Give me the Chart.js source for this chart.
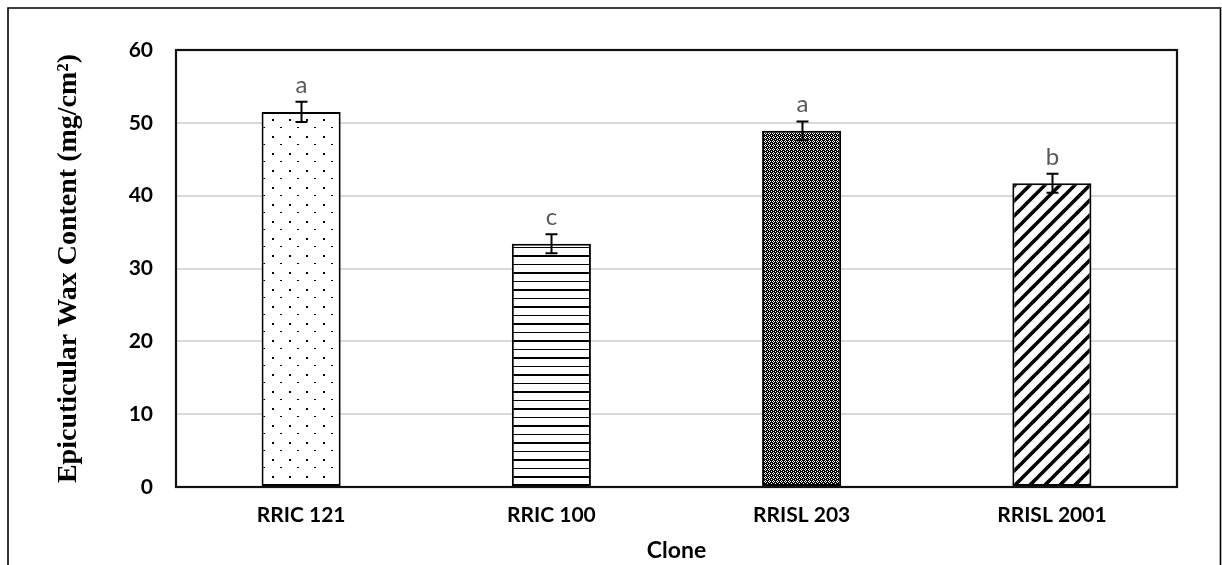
<!DOCTYPE html>
<html>
<head>
<meta charset="utf-8">
<script src="https://cdn.jsdelivr.net/npm/chart.js@4.4.1/dist/chart.umd.min.js"></script>
<style>
  html, body { margin: 0; padding: 0; background: #fff; }
  #wrap { width: 1222px; height: 565px; position: relative; }
</style>
</head>
<body>
<div id="wrap"><canvas id="c" width="1222" height="565"></canvas></div>
<script>
// ---- data ----
const categories = ['RRIC 121', 'RRIC 100', 'RRISL 203', 'RRISL 2001'];
const waxValues = [51.5, 33.4, 48.9, 41.7];
const waxErrors = [1.4, 1.3, 1.3, 1.3];
const sigLetters = ['a', 'c', 'a', 'b'];
const yTicks = [0, 10, 20, 30, 40, 50, 60];

// ---- fill patterns ----
function makePattern(w, h, draw) {
  const c = document.createElement('canvas');
  c.width = w; c.height = h;
  const g = c.getContext('2d');
  g.fillStyle = '#fff'; g.fillRect(0, 0, w, h);
  g.fillStyle = '#000'; g.strokeStyle = '#000';
  draw(g, w, h);
  return document.createElement('canvas').getContext('2d').createPattern(c, 'repeat');
}
const dotPattern = makePattern(17, 17, g => {
  g.fillRect(0, 0, 2, 2);
  g.fillRect(8, 8, 2, 1);
});
const hLinePattern = makePattern(4, 17, g => {
  g.fillRect(0, 0, 4, 2);
  g.fillRect(0, 9, 4, 1);
});
const crossPattern = makePattern(4, 4, g => {
  g.fillRect(0, 0, 4, 4);
  g.fillStyle = '#fff';
  g.fillRect(1, 0, 1, 1); g.fillRect(0, 1, 1, 1); g.fillRect(2, 1, 1, 1); g.fillRect(1, 2, 1, 1);
  g.fillRect(3, 3, 1, 1);
});
const diagPattern = makePattern(15, 15, g => {
  g.lineWidth = 3.6;
  for (const k of [-15, 0, 15]) {
    g.beginPath(); g.moveTo(k - 2, 17); g.lineTo(k + 17, -2); g.stroke();
  }
});
const fills = [dotPattern, hLinePattern, crossPattern, diagPattern];

// ---- plugins ----
const frameAndErrors = {
  id: 'frameAndErrors',
  beforeDraw(chart) {
    const ctx = chart.ctx;
    ctx.save();
    ctx.strokeStyle = '#000';
    ctx.lineWidth = 1.6;
    ctx.beginPath();
    ctx.moveTo(8, 600); ctx.lineTo(8, 8); ctx.lineTo(1220.5, 8); ctx.lineTo(1220.5, 600);
    ctx.stroke();
    ctx.restore();
  },
  afterDatasetsDraw(chart) {
    const ctx = chart.ctx;
    const a = chart.chartArea;
    const y = chart.scales.y;
    const meta = chart.getDatasetMeta(0);
    ctx.save();
    // plot border
    ctx.strokeStyle = '#111';
    ctx.lineWidth = 2.2;
    ctx.strokeRect(a.left, a.top, a.right - a.left, a.bottom - a.top);
    // error bars
    ctx.lineWidth = 2;
    ctx.strokeStyle = '#000';
    meta.data.forEach((bar, i) => {
      const x = Math.round(bar.x) + 0.5;
      const yt = y.getPixelForValue(waxValues[i] + waxErrors[i]);
      const yb = y.getPixelForValue(waxValues[i] - waxErrors[i]);
      ctx.beginPath();
      ctx.moveTo(x, yt); ctx.lineTo(x, yb);
      ctx.moveTo(x - 6, yt); ctx.lineTo(x + 6, yt);
      ctx.moveTo(x - 6, yb); ctx.lineTo(x + 6, yb);
      ctx.stroke();
      // letters
      ctx.fillStyle = '#595959';
      ctx.font = '24px Lato';
      ctx.textAlign = 'center';
      ctx.textBaseline = 'alphabetic';
      ctx.fillText(sigLetters[i], x, yt - 9);
    });
    ctx.restore();
  }
};

new Chart(document.getElementById('c'), {
  type: 'bar',
  data: {
    labels: categories,
    datasets: [{
      data: waxValues,
      backgroundColor: fills,
      borderColor: '#000',
      borderWidth: 2,
      borderSkipped: false,
      categoryPercentage: 0.316,
      barPercentage: 1
    }]
  },
  options: {
    responsive: false,
    animation: false,
    devicePixelRatio: 1,
    layout: { padding: { left: 0, top: 50, right: 45, bottom: 0 } },
    plugins: { legend: { display: false }, tooltip: { enabled: false } },
    scales: {
      x: {
        grid: { display: false, drawTicks: false },
        border: { display: false },
        ticks: { color: '#000', font: { family: 'Lato', weight: 'bold', size: 21 }, padding: 16 },
        title: { display: true, text: 'Clone', color: '#000',
                 font: { family: 'Lato', weight: 'bold', size: 23 }, padding: { top: 0, bottom: 1 } },
        afterFit(s) { s.height = 78; }
      },
      y: {
        min: 0, max: 60,
        afterBuildTicks(s) { s.ticks = yTicks.map(v => ({ value: v })); },
        grid: { color: '#d9d9d9', lineWidth: 2, drawTicks: false },
        border: { display: false },
        ticks: { color: '#000', font: { family: 'Lato', weight: 'bold', size: 21 }, padding: 23 },
        title: { display: true, text: 'Epicuticular Wax Content (mg/cm²)', color: '#000',
                 font: { family: 'Liberation Serif', weight: 'bold', size: 28 }, padding: { top: 52, bottom: 0 } },
        afterFit(s) { s.width = 176; }
      }
    }
  },
  plugins: [frameAndErrors]
});
</script>
</body>
</html>
